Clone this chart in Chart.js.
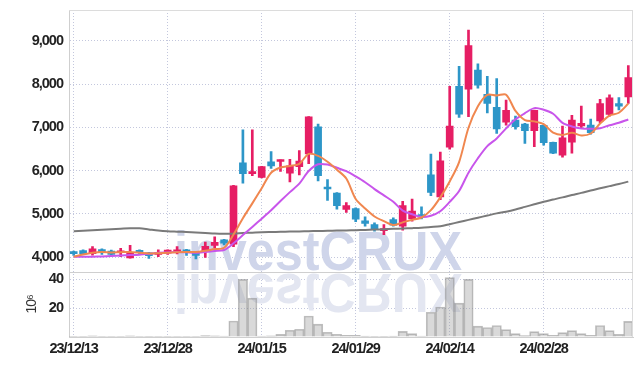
<!DOCTYPE html>
<html><head><meta charset="utf-8">
<script src="https://cdn.jsdelivr.net/npm/chart.js@4.4.1/dist/chart.umd.min.js"></script>
<style>html,body{margin:0;padding:0;background:#fff;}#wrap{width:643px;height:366px;}</style>
</head><body><div id="wrap"><canvas id="c" width="643" height="366"></canvas></div>
<script>
const dates = ['23/12/13','23/12/14','23/12/15','23/12/18','23/12/19','23/12/20','23/12/21','23/12/22','23/12/26','23/12/27',
'23/12/28','24/01/02','24/01/03','24/01/04','24/01/05','24/01/08','24/01/09','24/01/10','24/01/11','24/01/12',
'24/01/15','24/01/16','24/01/17','24/01/18','24/01/19','24/01/22','24/01/23','24/01/24','24/01/25','24/01/26',
'24/01/29','24/01/30','24/01/31','24/02/01','24/02/02','24/02/05','24/02/06','24/02/07','24/02/08','24/02/13',
'24/02/14','24/02/15','24/02/16','24/02/19','24/02/20','24/02/21','24/02/22','24/02/23','24/02/26','24/02/27',
'24/02/28','24/02/29','24/03/04','24/03/05','24/03/06','24/03/07','24/03/08','24/03/11','24/03/12','24/03/13'];
const openP = [4110,4150,4080,4150,4140,4100,3980,4130,4100,4060,
4090,4120,4170,4110,4150,4270,4400,4300,6180,5930,
5840,6200,6210,5940,6090,6385,7010,5620,5480,5100,
5120,4840,4750,4610,4865,4715,4885,4980,5900,5390,
6540,7950,7880,8325,7765,7460,7120,7165,7075,6920,
7045,6655,6355,6655,7030,7050,7150,7300,7550,7705];
const highP = [4140,4170,4240,4190,4160,4200,4270,4170,4110,4170,
4170,4240,4180,4130,4345,4470,4410,5660,6940,6940,
6100,6440,6250,6260,6460,7250,7075,5790,5490,5260,
5140,4930,4790,4750,4905,5290,5340,5160,6380,6425,
7950,8410,9250,8470,8180,8130,7630,7260,7090,7400,
7060,6660,7030,7280,7490,7190,7650,7750,7690,8425];
const lowP = [4040,4060,4045,4060,4040,4010,3975,4060,3970,4010,
4060,4070,4040,3960,3990,4220,4280,4240,5710,5880,
5830,6050,5980,5740,5900,6160,5760,5310,5110,5035,
4820,4715,4600,4520,4715,4620,4830,4885,5420,5330,
6495,7230,7245,7905,7335,6860,7050,6955,6630,6555,
6585,6390,6310,6400,6975,6840,7105,7260,7400,7550];
const closeP = [4080,4080,4190,4125,4060,4110,4100,4110,4030,4100,
4160,4170,4120,4040,4250,4340,4320,5650,5930,5970,
6090,6110,6250,6110,6220,7240,5880,5575,5190,5190,
4875,4780,4655,4650,4740,5190,5065,4930,5495,6225,
7030,7305,8890,7975,7550,6965,7395,7015,6920,7395,
6645,6400,6755,7165,7090,6875,7550,7680,7490,8150];
const volume = [0.4,0.3,0.8,0.3,0.3,0.3,0.8,0.3,0.2,0.3,
0.3,0.4,0.3,0.4,0.9,0.8,0.7,11.1,40.0,27.0,
0.7,0.8,1.8,4.7,5.4,14.6,8.9,3.3,1.9,1.1,
1.1,0.6,0.5,0.5,0.6,3.9,2.3,0.7,17.2,20.8,
41.2,23.5,40.0,7.5,6.6,8.0,5.1,2.3,0.9,3.7,
2.3,1.1,3.0,4.4,2.3,1.1,8.0,4.4,1.8,10.8];
const ma5 = [4010,4060,4100,4120,4107,4113,4117,4101,4082,4090,
4100,4114,4116,4118,4148,4184,4214,4520,4898,5242,
5592,5950,6070,6106,6156,6386,6340,6205,6021,5815,
5342,5122,4938,4830,4740,4803,4860,4915,5084,5381,
5749,6197,6989,7485,7750,7737,7755,7380,7169,7138,
7074,6875,6823,6872,6811,6857,7087,7272,7337,7549];
const ma10 = [4005,4008,4010,4015,4023,4035,4045,4055,4075,4099,
4107,4116,4109,4100,4119,4142,4164,4318,4508,4695,
4888,5082,5295,5502,5699,5989,6145,6138,6064,5986,
5864,5731,5572,5426,5278,5073,4991,4927,4957,5061,
5276,5529,5952,6285,6566,6743,6976,7185,7327,7444,
7406,7315,7102,7021,6975,6966,6981,7048,7105,7181];
const maLong = [4598,4610,4622,4634,4645,4655,4665,4665,4640,4615,
4598,4588,4578,4567,4557,4545,4540,4542,4555,4565,
4575,4580,4584,4589,4594,4598,4603,4607,4612,4616,
4621,4628,4636,4644,4652,4660,4668,4678,4695,4713,
4760,4810,4860,4910,4960,5010,5050,5100,5160,5220,
5280,5330,5380,5435,5485,5540,5590,5640,5690,5745];
const priceTicks = [4000,5000,6000,7000,8000,9000];
const volTicks = [20,40];

const UP = '#e61e64', DOWN = '#2d96c8';
const candleColors = closeP.map((c, i) => c >= openP[i] ? UP : DOWN);
const GRID = '#c3c7dd';
const tickFont = {family: "'Liberation Sans', Arial, sans-serif", size: 14.5, weight: 'bold'};

const tightText = {
  id: 'tightText',
  beforeDraw(chart) { chart.ctx.letterSpacing = '-1px'; },
  afterDraw(chart) { chart.ctx.letterSpacing = '0px'; }
};
const watermark = {
  id: 'watermark',
  beforeDatasetsDraw(chart) {
    const ctx = chart.ctx;
    const base = chart.scales.y.bottom;
    const x0 = chart.chartArea.left + 105;
    const text = 'investCRUX';
    ctx.save();
    ctx.letterSpacing = '0px';
    ctx.font = "bold 56px 'Liberation Sans', Arial, sans-serif";
    const w = ctx.measureText(text).width;
    const sx = 288 / w;
    ctx.save();
    ctx.translate(x0, base + 2.5);
    ctx.scale(sx, -1);
    ctx.fillStyle = '#e3e6f1';
    ctx.fillText(text, 0, 0);
    ctx.restore();
    ctx.translate(x0, base - 1.5);
    ctx.scale(sx, 1);
    ctx.fillStyle = '#cfd5ea';
    ctx.fillText(text, 0, 0);
    ctx.restore();
  }
};
const frame = {
  id: 'frame',
  afterDraw(chart) {
    const ctx = chart.ctx, a = chart.chartArea;
    ctx.save();
    ctx.lineWidth = 1;
    ctx.strokeStyle = '#dcdcdc';
    ctx.beginPath();
    ctx.moveTo(a.left, a.top + 0.5); ctx.lineTo(a.right, a.top + 0.5);
    ctx.moveTo(a.right - 0.5, a.top); ctx.lineTo(a.right - 0.5, a.bottom);
    ctx.stroke();
    const yb = Math.round(chart.scales.y.bottom) + 0.5;
    ctx.strokeStyle = '#cfcfcf';
    ctx.beginPath();
    ctx.moveTo(a.left, yb); ctx.lineTo(a.right, yb);
    ctx.stroke();
    ctx.restore();
  }
};

const fitY = s => { s.width = 49; s.paddingTop = 0; s.paddingBottom = 0; };

new Chart(document.getElementById('c'), {
  data: {
    labels: dates,
    datasets: [
      {type: 'line', data: ma5, borderColor: '#f0874f', borderWidth: 2, pointRadius: 0, tension: 0.3, yAxisID: 'y', order: 1},
      {type: 'line', data: ma10, borderColor: '#c855eb', borderWidth: 2, pointRadius: 0, tension: 0.3, yAxisID: 'y', order: 1},
      {type: 'line', data: maLong, borderColor: '#7a7a7a', borderWidth: 2, pointRadius: 0, tension: 0.3, yAxisID: 'y', order: 1},
      {type: 'bar', data: openP.map((o, i) => [o, closeP[i]]), backgroundColor: candleColors, barThickness: 7, minBarLength: 2, grouped: false, yAxisID: 'y', order: 2},
      {type: 'bar', data: lowP.map((l, i) => [l, highP[i]]), backgroundColor: candleColors, barThickness: 2, grouped: false, yAxisID: 'y', order: 3},
      {type: 'bar', data: volume, backgroundColor: 'rgba(150,150,150,0.36)', borderColor: 'rgba(130,130,130,0.5)', borderWidth: 1, barPercentage: 1, categoryPercentage: 1, grouped: false, yAxisID: 'yv', order: 4}
    ]
  },
  options: {
    responsive: false,
    animation: false,
    layout: {padding: {top: 10, right: 10, bottom: 0, left: 20}},
    plugins: {legend: {display: false}, tooltip: {enabled: false}},
    scales: {
      x: {
        type: 'category', offset: true,
        afterFit: s => { s.height = 29; s.paddingLeft = 0; s.paddingRight = 0; },
        grid: {offset: false, drawTicks: false, color: c => (c.index % 10 === 0 ? GRID : 'rgba(0,0,0,0)')},
        border: {display: true, color: '#cfcfcf', dash: [1, 2]},
        ticks: {autoSkip: false, maxRotation: 0, minRotation: 0, padding: 3, color: '#222', font: tickFont,
          callback: (v, i) => (i % 10 === 0 ? dates[i] : '')}
      },
      yv: {
        type: 'linear', position: 'left', stack: 'main', stackWeight: 1,
        min: 0, max: 45.4,
        afterBuildTicks: s => { s.ticks = [0].concat(volTicks).map(v => ({value: v})); },
        afterFit: fitY,
        grid: {drawTicks: false, color: c => (c.tick && c.tick.value === 0 ? 'rgba(0,0,0,0)' : GRID)},
        border: {color: '#cfcfcf', dash: [1, 2]},
        title: {display: true, text: '10⁶', color: '#333', font: {family: "'Liberation Sans', sans-serif", size: 14}, padding: {top: 4, bottom: 10}},
        ticks: {autoSkip: false, padding: 6, color: '#222', font: tickFont, callback: v => (v === 0 ? '' : v)}
      },
      y: {
        type: 'linear', position: 'left', stack: 'main', stackWeight: 4,
        min: 3664, max: 9713,
        afterBuildTicks: s => { s.ticks = priceTicks.map(v => ({value: v})); },
        afterFit: fitY,
        grid: {drawTicks: false, color: GRID},
        border: {color: '#cfcfcf', dash: [1, 2]},
        ticks: {autoSkip: false, padding: 6, color: '#222', font: tickFont, callback: v => v.toLocaleString('en-US')}
      }
    }
  },
  plugins: [tightText, watermark, frame]
});
</script>
</body></html>
